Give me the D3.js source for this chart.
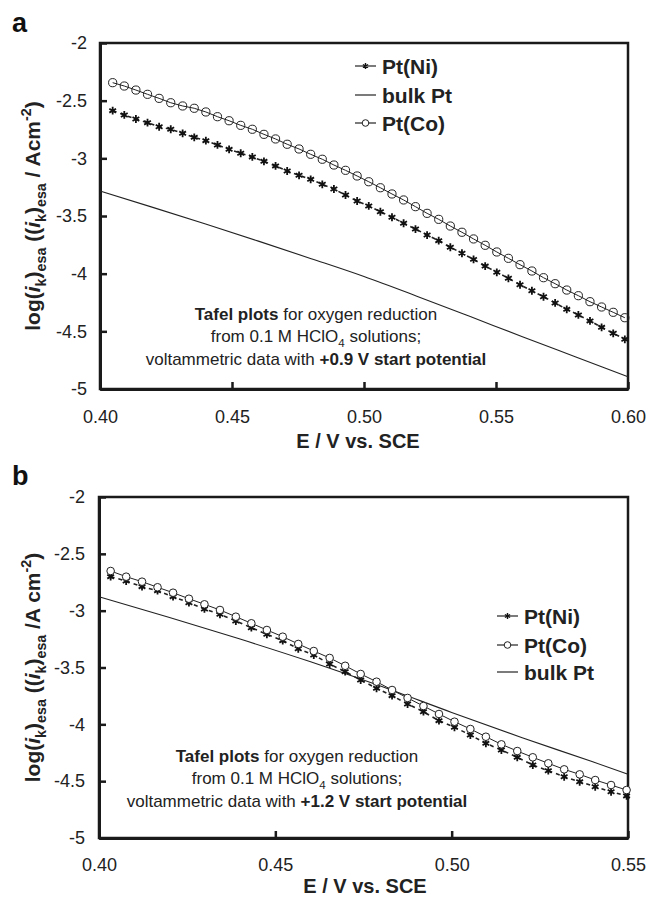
<!DOCTYPE html>
<html>
<head>
<meta charset="utf-8">
<script src="https://cdn.jsdelivr.net/npm/d3@7"></script>
<style>
body { margin: 0; background: #fff; }
svg { display: block; font-family: "Liberation Sans", Arial, Helvetica, sans-serif; }
.frame { fill: none; stroke: #1a1a1a; stroke-width: 2.5; }
.axis path { stroke: #1a1a1a; stroke-width: 3; }
.axis line { stroke: #1a1a1a; stroke-width: 2.5; }
.axis text { font-size: 18px; fill: #222; }
</style>
</head>
<body>
<svg width="646" height="898"></svg>
<script>
// panel a : +0.9 V start potential
var aE = [0.4048, 0.4092, 0.4136, 0.4180, 0.4224, 0.4268, 0.4313, 0.4357, 0.4401, 0.4445,
          0.4489, 0.4533, 0.4577, 0.4621, 0.4665, 0.4709, 0.4754, 0.4798, 0.4842, 0.4886,
          0.4930, 0.4974, 0.5018, 0.5062, 0.5106, 0.5150, 0.5195, 0.5239, 0.5283, 0.5327,
          0.5371, 0.5415, 0.5459, 0.5503, 0.5547, 0.5591, 0.5636, 0.5680, 0.5724, 0.5768,
          0.5812, 0.5856, 0.5900, 0.5944, 0.5988];
var aNi = [-2.587, -2.624, -2.659, -2.691, -2.726, -2.748, -2.783, -2.818, -2.847, -2.884,
           -2.922, -2.956, -2.988, -3.026, -3.066, -3.110, -3.147, -3.182, -3.225, -3.266,
           -3.318, -3.370, -3.413, -3.463, -3.511, -3.563, -3.613, -3.665, -3.714, -3.771,
           -3.823, -3.876, -3.934, -3.988, -4.040, -4.096, -4.148, -4.200, -4.254, -4.309,
           -4.358, -4.410, -4.465, -4.517, -4.569];
var aCo = [-2.344, -2.373, -2.408, -2.445, -2.480, -2.518, -2.546, -2.566, -2.598, -2.639,
           -2.674, -2.714, -2.748, -2.792, -2.832, -2.878, -2.919, -2.965, -3.008, -3.058,
           -3.104, -3.153, -3.203, -3.255, -3.309, -3.361, -3.419, -3.477, -3.529, -3.587,
           -3.641, -3.699, -3.754, -3.812, -3.867, -3.922, -3.977, -4.035, -4.087, -4.142,
           -4.191, -4.243, -4.289, -4.335, -4.382];
var aBulkE = [0.40, 0.42, 0.44, 0.46, 0.48, 0.50, 0.52, 0.54, 0.56, 0.58, 0.60];
var aBulk = [-3.283, -3.425, -3.570, -3.718, -3.870, -4.025, -4.195, -4.370, -4.547, -4.720, -4.893];

// panel b : +1.2 V start potential
var bE = [0.4033, 0.4077, 0.4122, 0.4166, 0.4210, 0.4255, 0.4299, 0.4343, 0.4388, 0.4432,
          0.4476, 0.4521, 0.4565, 0.4609, 0.4654, 0.4698, 0.4742, 0.4787, 0.4831, 0.4875,
          0.4920, 0.4964, 0.5008, 0.5053, 0.5097, 0.5141, 0.5186, 0.5230, 0.5274, 0.5319,
          0.5363, 0.5407, 0.5452, 0.5496];
var bNi = [-2.701, -2.739, -2.789, -2.824, -2.877, -2.930, -2.985, -3.032, -3.091, -3.150,
           -3.208, -3.264, -3.335, -3.390, -3.469, -3.537, -3.610, -3.683, -3.748, -3.821,
           -3.889, -3.968, -4.026, -4.094, -4.167, -4.226, -4.290, -4.358, -4.408, -4.461,
           -4.505, -4.549, -4.593, -4.630];
var bCo = [-2.651, -2.701, -2.745, -2.794, -2.842, -2.895, -2.944, -2.994, -3.053, -3.111,
           -3.170, -3.229, -3.293, -3.355, -3.416, -3.485, -3.557, -3.625, -3.698, -3.768,
           -3.839, -3.909, -3.977, -4.041, -4.109, -4.176, -4.235, -4.290, -4.343, -4.396,
           -4.440, -4.490, -4.534, -4.578];
var bBulkE = [0.40, 0.42, 0.44, 0.46, 0.48, 0.50, 0.52, 0.54, 0.55];
var bBulk = [-2.877, -3.060, -3.250, -3.450, -3.665, -3.895, -4.118, -4.330, -4.440];

var yTicks = [-2, -2.5, -3, -3.5, -4, -4.5, -5];
var yTickLabels = ["-2", "-2.5", "-3", "-3.5", "-4", "-4.5", "-5"];
var aXTicks = [0.40, 0.45, 0.50, 0.55, 0.60];
var aXTickLabels = ["0.40", "0.45", "0.50", "0.55", "0.60"];
var bXTicks = [0.40, 0.45, 0.50, 0.55];
var bXTickLabels = ["0.40", "0.45", "0.50", "0.55"];

var svg = d3.select("svg");

function zip(xs, ys) {
    var ret = [];
    for (var i = 0; i < xs.length; i++) {
        ret.push({ E: xs[i], v: ys[i] });
    }
    return ret;
}

// six-armed asterisk
function starPath(r) {
    var p = "";
    [90, 30, 150].forEach(function(a) {
        var dx = r * Math.cos(a * Math.PI / 180);
        var dy = r * Math.sin(a * Math.PI / 180);
        p += "M" + (-dx) + "," + (-dy) + "L" + dx + "," + dy;
    });
    return p;
}

// text made of pieces: [string, "b it sub sup"]
function richText(sel, parts, size) {
    var shift = 0;
    parts.forEach(function(p) {
        var s = (p[1] || "").split(" ");
        var t = sel.append("tspan").text(p[0]);
        var target = 0;
        var fs = size;
        if (s.indexOf("sub") >= 0) { target = size * 0.3; fs = size * 0.68; }
        if (s.indexOf("sup") >= 0) { target = -size * 0.42; fs = size * 0.68; }
        t.attr("dy", target - shift).attr("font-size", fs)
         .attr("font-weight", s.indexOf("b") >= 0 ? "bold" : "normal");
        if (s.indexOf("it") >= 0) { t.attr("font-style", "italic"); }
        shift = target;
    });
}

function drawPanel(c) {
    var g = svg.append("g");
    var x = d3.scaleLinear().domain(c.xDomain).range([c.left, c.right]);
    var y = d3.scaleLinear().domain([-2, -5]).range([c.top, c.bottom]);

    g.append("rect").attr("class", "frame")
        .attr("x", c.left).attr("y", c.top)
        .attr("width", c.right - c.left).attr("height", c.bottom - c.top);

    g.append("g").attr("class", "axis")
        .attr("transform", "translate(" + c.left + ",0)")
        .call(d3.axisLeft(y).tickValues(yTicks).tickSizeInner(-7).tickSizeOuter(0)
            .tickPadding(c.yPad)
            .tickFormat(function(d, i) { return yTickLabels[i]; }));

    g.append("g").attr("class", "axis")
        .attr("transform", "translate(0," + c.bottom + ")")
        .call(d3.axisBottom(x).tickValues(c.xTicks).tickSizeInner(-7).tickSizeOuter(0)
            .tickPadding(c.xPad)
            .tickFormat(function(d, i) { return c.xTickLabels[i]; }));

    var line = d3.line().x(function(d) { return x(d.E); }).y(function(d) { return y(d.v); });

    var bulk = zip(c.bulkE, c.bulk);
    var ni = zip(c.E, c.ni);
    var co = zip(c.E, c.co);

    g.append("path").datum(bulk).attr("d", line.curve(d3.curveMonotoneX))
        .attr("fill", "none").attr("stroke", "#222").attr("stroke-width", 1.1);
    line.curve(d3.curveLinear);

    g.append("path").datum(ni).attr("d", line)
        .attr("fill", "none").attr("stroke", "#222").attr("stroke-width", 1.6)
        .attr("stroke-dasharray", "4,4");
    g.selectAll(".ni").data(ni).enter().append("path")
        .attr("transform", function(d) { return "translate(" + x(d.E) + "," + y(d.v) + ")"; })
        .attr("d", starPath(3.9))
        .attr("stroke", "#111").attr("stroke-width", 1.8);

    g.append("path").datum(co).attr("d", line)
        .attr("fill", "none").attr("stroke", "#222").attr("stroke-width", 1);
    g.selectAll(".co").data(co).enter().append("circle")
        .attr("cx", function(d) { return x(d.E); })
        .attr("cy", function(d) { return y(d.v); })
        .attr("r", c.r)
        .attr("fill", c.coFill).attr("stroke", "#222").attr("stroke-width", 1);

    // legend
    c.legend.forEach(function(name, i) {
        var ly = c.legY[i];
        g.append("line").attr("x1", c.legX).attr("x2", c.legX + 21)
            .attr("y1", ly).attr("y2", ly)
            .attr("stroke", "#222").attr("stroke-width", 1.2);
        if (name == "Pt(Ni)") {
            g.append("path").attr("d", starPath(3))
                .attr("transform", "translate(" + (c.legX + 10.5) + "," + ly + ")")
                .attr("stroke", "#111").attr("stroke-width", 1.4);
        }
        if (name == "Pt(Co)") {
            g.append("circle").attr("cx", c.legX + 10.5).attr("cy", ly).attr("r", 3.3)
                .attr("fill", "#fff").attr("stroke", "#222").attr("stroke-width", 1);
        }
        g.append("text").attr("x", c.legX + 27).attr("y", ly + 7.5)
            .attr("font-size", 21).attr("font-weight", "bold").attr("fill", "#222")
            .text(name);
    });

    // annotation
    var ann = [
        [["Tafel plots", "b"], [" for oxygen reduction", ""]],
        [["from 0.1 M HClO", ""], ["4", "sub"], [" solutions;", ""]],
        [["voltammetric data with ", ""], [c.start, "b"]]
    ];
    ann.forEach(function(parts, i) {
        var t = g.append("text").attr("x", c.annX).attr("y", c.annY[i])
            .attr("text-anchor", "middle").attr("fill", "#222");
        richText(t, parts, 17);
    });

    // axis titles
    g.append("text").attr("x", c.xTitleX).attr("y", c.xTitleY)
        .attr("text-anchor", "middle").attr("font-size", 20).attr("font-weight", "bold")
        .attr("fill", "#222").text("E / V vs. SCE");

    var yt = g.append("text")
        .attr("transform", "translate(40," + (c.top + c.bottom) / 2 + ") rotate(-90)")
        .attr("text-anchor", "middle").attr("fill", "#222");
    richText(yt, [["log(", "b"], ["i", "b it"], ["k", "b sub"], [")", "b"], ["esa", "b sub"],
                  [" ((", "b"], ["i", "b it"], ["k", "b sub"], [")", "b"], ["esa", "b sub"],
                  [c.unit, "b"], ["-2", "b sup"], [")", "b"]], 21);

    g.append("text").attr("x", 12).attr("y", c.labelY)
        .attr("font-size", 27).attr("font-weight", "bold").attr("fill", "#111")
        .text(c.label);
}

drawPanel({
    label: "a", labelY: 32,
    left: 100, right: 628, top: 43, bottom: 389,
    xDomain: [0.40, 0.60], xTicks: aXTicks, xTickLabels: aXTickLabels,
    yPad: 13, xPad: 21,
    E: aE, ni: aNi, co: aCo, bulkE: aBulkE, bulk: aBulk,
    r: 4.1, coFill: "none",
    legend: ["Pt(Ni)", "bulk Pt", "Pt(Co)"], legY: [66, 95, 123], legX: 355,
    annX: 316, annY: [320, 342, 365], start: "+0.9 V start potential",
    xTitleX: 358, xTitleY: 448, unit: " / Acm"
});

drawPanel({
    label: "b", labelY: 485,
    left: 99, right: 628, top: 497, bottom: 838,
    xDomain: [0.40, 0.55], xTicks: bXTicks, xTickLabels: bXTickLabels,
    yPad: 14, xPad: 20,
    E: bE, ni: bNi, co: bCo, bulkE: bBulkE, bulk: bBulk,
    r: 3.8, coFill: "#fff",
    legend: ["Pt(Ni)", "Pt(Co)", "bulk Pt"], legY: [616, 645, 672], legX: 497,
    annX: 297, annY: [762, 784, 807], start: "+1.2 V start potential",
    xTitleX: 365, xTitleY: 893, unit: " /A cm"
});
</script>
</body>
</html>
